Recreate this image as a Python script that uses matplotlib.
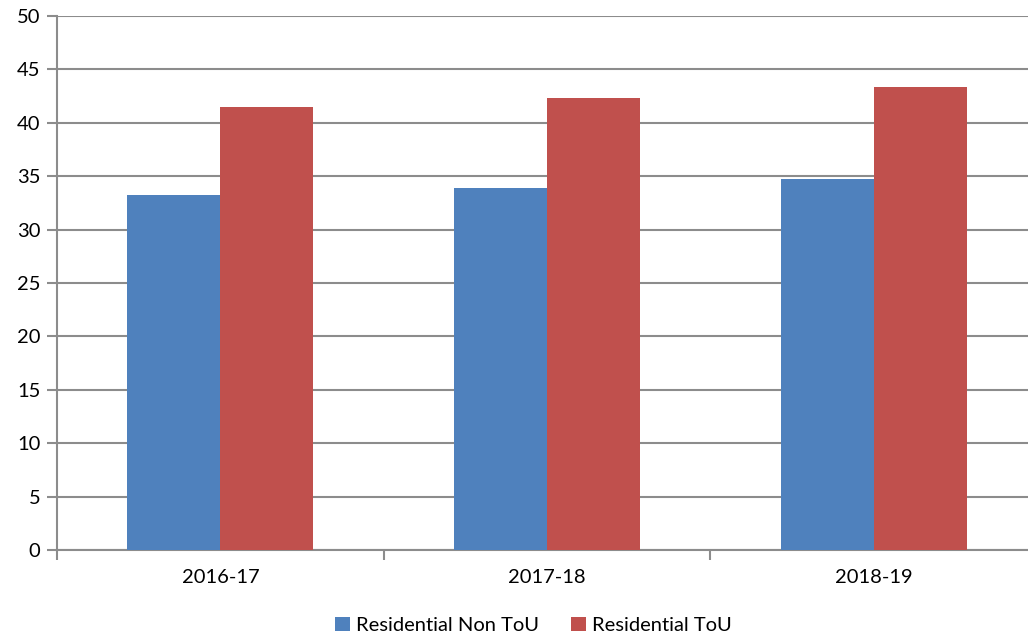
import matplotlib
matplotlib.use("Agg")
import matplotlib.pyplot as plt
import numpy as np

years = ["2016-17", "2017-18", "2018-19"]
non_tou = [33.25, 33.92, 34.77]
tou = [41.45, 42.29, 43.32]
series_names = ["Residential Non ToU", "Residential ToU"]

BLUE, RED, GRID = "#4F81BD", "#C0504D", "#8C8C8C"
plt.rcParams["font.family"] = ["Lato", "DejaVu Sans"]

fig = plt.figure(figsize=(10.28, 6.38), dpi=100)
# plot area runs slightly past the right edge of the picture, as in the reference
ax = fig.add_axes([57 / 1028, 88 / 638, 980 / 1028, 534 / 638])

x = np.arange(len(years))
w = 0.285
ax.bar(x - w / 2, non_tou, w, color=BLUE, label=series_names[0], zorder=3)
ax.bar(x + w / 2, tou, w, color=RED, label=series_names[1], zorder=3)

ax.set_xlim(-0.5, len(years) - 0.5)
ax.set_ylim(0, 50)
ax.set_yticks(range(0, 51, 5))
ax.yaxis.grid(True, color=GRID, lw=1.5, zorder=0)
ax.set_axisbelow(True)

ax.set_xticks(x)
ax.set_xticklabels(years, fontsize=14.5)
ax.tick_params(axis="x", length=0, pad=14)
ax.set_xticks(np.arange(-0.5, len(years), 1), minor=True)
ax.tick_params(axis="x", which="minor", length=7, width=1.5, color=GRID, direction="out")
ax.tick_params(axis="y", labelsize=14.5, length=7, width=1.5, color=GRID, pad=5)

for side in ["top", "right"]:
    ax.spines[side].set_visible(False)
for side in ["left", "bottom"]:
    ax.spines[side].set_color(GRID)
    ax.spines[side].set_linewidth(1.5)

fig.legend(loc="lower center", bbox_to_anchor=(0.519, -0.022), ncol=2, frameon=False,
           fontsize=14.5, handlelength=0.75, handleheight=0.75, handletextpad=0.3,
           columnspacing=1.6)

fig.savefig("out.png", dpi=100)
